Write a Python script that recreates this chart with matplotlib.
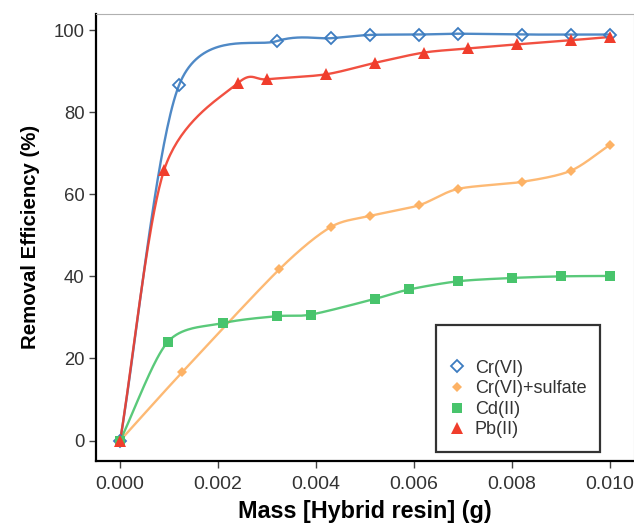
import numpy as np
import matplotlib
matplotlib.use("Agg")
import matplotlib.pyplot as plt

plt.rcParams["font.family"] = ["Liberation Sans", "DejaVu Sans"]

# ------------------------------------------------------------
# Data
# ------------------------------------------------------------
cr_x = [0.0, 0.0012, 0.0032, 0.0043, 0.0051, 0.0061, 0.0069, 0.0082, 0.0092, 0.0100]
cr_y = [0.0, 86.5, 97.3, 98.0, 98.8, 98.9, 99.1, 98.9, 98.9, 98.9]

crs_x = [0.0, 0.00127, 0.00325, 0.0043, 0.0051, 0.0061, 0.0069, 0.0082, 0.0092, 0.0100]
crs_y = [0.0, 16.7, 41.7, 52.0, 54.7, 57.3, 61.3, 63.0, 65.7, 72.0]

cd_x = [0.0, 0.00097, 0.0021, 0.0032, 0.0039, 0.0052, 0.0059, 0.0069, 0.0080, 0.0090, 0.0100]
cd_y = [0.0, 24.0, 28.6, 30.3, 30.7, 34.5, 36.8, 38.8, 39.6, 40.0, 40.1]

pb_x = [0.0, 0.0009, 0.0024, 0.0030, 0.0042, 0.0052, 0.0062, 0.0071, 0.0081, 0.0092, 0.0100]
pb_y = [0.0, 66.0, 87.0, 88.0, 89.2, 92.0, 94.5, 95.5, 96.5, 97.5, 98.3]

labels = ["Cr(VI)", "Cr(VI)+sulfate", "Cd(II)", "Pb(II)"]
colors = ["#3C7CC0", "#FDB265", "#48C46C", "#F03D2C"]

x_ticks = [0.000, 0.002, 0.004, 0.006, 0.008, 0.010]
y_ticks = [0, 20, 40, 60, 80, 100]

# rough pixel scale of the plot, used only so the smoothing looks even
SX, SY = 48950.0, 4.107


def smooth_line(x, y, n=40, tension=0.85):
    # Catmull-Rom style curve through the points (in pixel-like units)
    P = np.column_stack([np.asarray(x) * SX, np.asarray(y) * SY])
    P = np.vstack([2 * P[0] - P[1], P, 2 * P[-1] - P[-2]])
    s = np.linspace(0, 1, n)[:, None]
    h00 = 2 * s**3 - 3 * s**2 + 1
    h10 = s**3 - 2 * s**2 + s
    h01 = -2 * s**3 + 3 * s**2
    h11 = s**3 - s**2
    pts = []
    for i in range(1, len(P) - 2):
        m1 = tension * (P[i + 1] - P[i - 1]) / 2
        m2 = tension * (P[i + 2] - P[i]) / 2
        pts.append(h00 * P[i] + h10 * m1 + h01 * P[i + 1] + h11 * m2)
    pts = np.vstack(pts)
    return pts[:, 0] / SX, pts[:, 1] / SY


# ------------------------------------------------------------
# Figure
# ------------------------------------------------------------
fig = plt.figure(figsize=(6.34, 5.25), dpi=100)
ax = fig.add_axes([95.7 / 634, 64.3 / 525, 538.5 / 634, 446.7 / 525])

series = [
    (cr_x, cr_y, dict(marker="D", ms=6.5, mfc="none", mew=1.3)),
    (crs_x, crs_y, dict(marker="D", ms=5, mew=0)),
    (cd_x, cd_y, dict(marker="s", ms=7, mew=0)),
    (pb_x, pb_y, dict(marker="^", ms=8, mew=0)),
]

handles = []
for (xv, yv, mk), lab, col in zip(series, labels, colors):
    xs, ys = smooth_line(xv, yv)
    ax.plot(xs, ys, color=col, lw=1.7, alpha=0.9, zorder=2)
    h, = ax.plot(xv, yv, linestyle="none", color=col, label=lab, zorder=3, **mk)
    handles.append(h)

ax.set_xlim(-0.0005, 0.0105)
ax.set_ylim(-4.9, 103.9)
ax.set_xticks(x_ticks)
ax.set_xticklabels([f"{v:.3f}" for v in x_ticks])
ax.set_yticks(y_ticks)

ax.tick_params(direction="out", length=5, width=1, color="#444444",
               labelcolor="#333333")
ax.tick_params(axis="x", labelsize=14, pad=6)
ax.tick_params(axis="y", labelsize=13.3, pad=3)

ax.spines["left"].set_linewidth(1.6)
ax.spines["bottom"].set_linewidth(1.6)
ax.spines["top"].set_color("#b0b0b0")
ax.spines["right"].set_color("#b0b0b0")

ax.set_xlabel("Mass [Hybrid resin] (g)", fontsize=16.8, fontweight="bold", labelpad=5)
ax.set_ylabel("Removal Efficiency (%)", fontsize=14.7, fontweight="bold", labelpad=10)

leg = ax.legend(
    handles=handles,
    title=" ",
    loc="lower left",
    fontsize=13,
    title_fontsize=13,
    frameon=True,
    fancybox=False,
    edgecolor="black",
    handlelength=0.8,
    handletextpad=0.6,
    labelspacing=0.2,
    borderpad=0.75,
    borderaxespad=0,
)
leg.set_bbox_to_anchor((436 / 634, 73 / 525), transform=fig.transFigure)
leg.get_frame().set_linewidth(1.6)
for t in leg.get_texts():
    t.set_color("#333333")

plt.savefig("out.png", dpi=100)
plt.close()
